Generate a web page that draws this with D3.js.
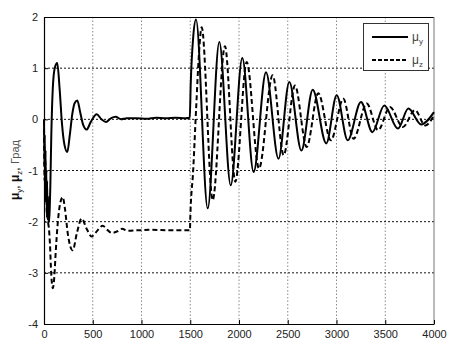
<!DOCTYPE html>
<html>
<head>
<meta charset="utf-8">
<script src="https://cdn.jsdelivr.net/npm/d3@7"></script>
<style>
  html, body { margin: 0; padding: 0; background: #fff; }
  svg { display: block; font-family: "Liberation Sans", Arial, Helvetica, sans-serif; }
</style>
</head>
<body>
<svg id="chart" width="461" height="355"></svg>
<script>
// ---- data ----
const xTicks = [0, 500, 1000, 1500, 2000, 2500, 3000, 3500, 4000];
const yTicks = [-4, -3, -2, -1, 0, 1, 2];

const muY_t = [0,4,8,12,16,20,24,28,32,36,40,46,55,65,75,90,110,136,160,185,210,239,265,290,315,342,370,400,437,480,540,590,636,685,735,790,850,950,1050,1150,1250,1350,1450,1495,
  1505,1530,1559,1679,1798,1915,2034,2150,2277,2405,2516,2640,2756,2895,3002,3115,3251,3368,3490,3630,3737,3868,4000];
const muY_v = [0,-0.9,-0.3,-1.3,-0.6,-1.6,-1.0,-1.8,-1.2,-1.95,-1.5,-2.02,-1.9,-1.3,-0.3,0.6,1.0,1.1,0.6,-0.1,-0.5,-0.64,-0.3,0.1,0.32,0.37,0.15,-0.1,-0.2,-0.05,0.1,0.0,-0.05,0.02,0.05,0.0,0.02,0.02,0.01,0.03,0.02,0.03,0.02,0.03,
  0.7,1.6,1.95,-1.74,1.51,-1.29,1.2,-1.03,0.92,-0.77,0.73,-0.61,0.58,-0.47,0.47,-0.41,0.34,-0.25,0.27,-0.18,0.21,-0.1,0.14];

const muZ_t = [0,6,12,18,24,30,36,42,50,60,75,90,105,120,140,165,192,215,245,294,340,386,440,489,545,602,650,694,750,800,860,950,1100,1300,1497,
  1500,1530,1560,1590,1617,1730,1856,1962,2079,2205,2345,2458,2574,2694,2813,2942,3070,3175,3310,3426,3549,3680,3805,3910,4000];
const muZ_v = [-0.2,-1.2,-0.8,-1.6,-1.2,-1.9,-1.5,-2.0,-2.12,-2.4,-3.05,-3.3,-3.1,-2.6,-2.05,-1.65,-1.52,-1.75,-2.25,-2.56,-2.2,-1.94,-2.15,-2.29,-2.18,-2.08,-2.16,-2.22,-2.19,-2.14,-2.18,-2.17,-2.16,-2.17,-2.17,
  -1.95,-1.0,0.2,1.3,1.8,-1.58,1.43,-1.22,1.12,-0.96,0.86,-0.70,0.66,-0.54,0.51,-0.41,0.40,-0.38,0.31,-0.21,0.24,-0.15,0.18,-0.12,0.08];

// ---- layout ----
const svg = d3.select("#chart");
const m = {left: 44, top: 17, right: 27, bottom: 31};
const W = 461 - m.left - m.right;   // 390
const H = 355 - m.top - m.bottom;   // 307
const g = svg.append("g").attr("transform", `translate(${m.left},${m.top})`);

const x = d3.scaleLinear().domain([0, 4000]).range([0, W]);
const y = d3.scaleLinear().domain([-4, 2]).range([H, 0]);

// grid
g.append("g").selectAll("line").data(xTicks.filter(d => d > 0 && d < 4000)).join("line")
  .attr("x1", d => x(d)).attr("x2", d => x(d)).attr("y1", 0).attr("y2", H)
  .attr("stroke", "#8a8a8a").attr("stroke-width", 1).attr("stroke-dasharray", "1.5,2");
g.append("g").selectAll("line").data(yTicks.filter(d => d > -4 && d < 2)).join("line")
  .attr("x1", 0).attr("x2", W).attr("y1", d => y(d)).attr("y2", d => y(d))
  .attr("stroke", "#111").attr("stroke-width", 1).attr("stroke-dasharray", "2,2");

// frame
g.append("line").attr("x1", 0).attr("x2", W).attr("y1", 0.5).attr("y2", 0.5).attr("stroke", "#000").attr("stroke-width", 1.2);
g.append("line").attr("x1", W).attr("x2", W).attr("y1", 0).attr("y2", H).attr("stroke", "#777").attr("stroke-width", 1);

// axes
const xAxis = g.append("g").attr("transform", `translate(0,${H})`)
  .call(d3.axisBottom(x).tickValues(xTicks).tickFormat(d3.format("d")).tickSizeInner(-4).tickSizeOuter(0).tickPadding(6));
const yAxis = g.append("g")
  .call(d3.axisLeft(y).tickValues(yTicks).tickFormat(d3.format("d")).tickSizeInner(-4).tickSizeOuter(0).tickPadding(6));
[xAxis, yAxis].forEach(a => {
  a.select(".domain").attr("stroke", "#000").attr("stroke-width", 1.2);
  a.selectAll(".tick line").attr("stroke", "#000");
  a.selectAll("text").attr("font-size", 11).attr("fill", "#222")
    .attr("font-family", "'Liberation Sans', Arial, sans-serif");
});
yAxis.selectAll("text").text(d => d < 0 ? "-" + Math.abs(d) : d);

// lines
const line = (ts, vs) => d3.line().x((d, i) => x(ts[i])).y((d, i) => y(vs[i])).curve(d3.curveMonotoneX)(vs);
g.append("path").attr("d", line(muZ_t, muZ_v)).attr("fill", "none").attr("stroke", "#000")
  .attr("stroke-width", 2).attr("stroke-dasharray", "5,3");
g.append("path").attr("d", line(muY_t, muY_v)).attr("fill", "none").attr("stroke", "#000")
  .attr("stroke-width", 2);

// legend
const lg = svg.append("g");
lg.append("rect").attr("x", 363.5).attr("y", 23.5).attr("width", 65).attr("height", 47)
  .attr("fill", "#fff").attr("stroke", "#333").attr("stroke-width", 1);
lg.append("line").attr("x1", 372).attr("x2", 408).attr("y1", 37).attr("y2", 37).attr("stroke", "#000").attr("stroke-width", 2);
lg.append("line").attr("x1", 372).attr("x2", 408).attr("y1", 60).attr("y2", 60).attr("stroke", "#000").attr("stroke-width", 2).attr("stroke-dasharray", "4,2");
const lt1 = lg.append("text").attr("x", 412).attr("y", 41).attr("font-size", 12).attr("fill", "#444");
lt1.append("tspan").text("μ");
lt1.append("tspan").attr("font-size", 8).attr("dy", 3).text("y");
const lt2 = lg.append("text").attr("x", 412).attr("y", 64).attr("font-size", 12).attr("fill", "#444");
lt2.append("tspan").text("μ");
lt2.append("tspan").attr("font-size", 8).attr("dy", 3).text("z");

// y label
const yl = svg.append("text").attr("transform", "translate(19,170) rotate(-90)")
  .attr("text-anchor", "middle").attr("font-size", 12);
yl.append("tspan").attr("font-weight", "bold").attr("fill", "#111").text("μ");
yl.append("tspan").attr("font-size", 8).attr("dy", 3).attr("fill", "#111").text("y");
yl.append("tspan").attr("dy", -3).attr("fill", "#111").text(", ");
yl.append("tspan").attr("font-weight", "bold").attr("fill", "#111").text("μ");
yl.append("tspan").attr("font-size", 8).attr("dy", 3).attr("fill", "#111").text("z");
yl.append("tspan").attr("dy", -3).attr("fill", "#111").text(", ");
yl.append("tspan").attr("fill", "#555").attr("font-size", 11).text(" Град");
</script>
</body>
</html>
